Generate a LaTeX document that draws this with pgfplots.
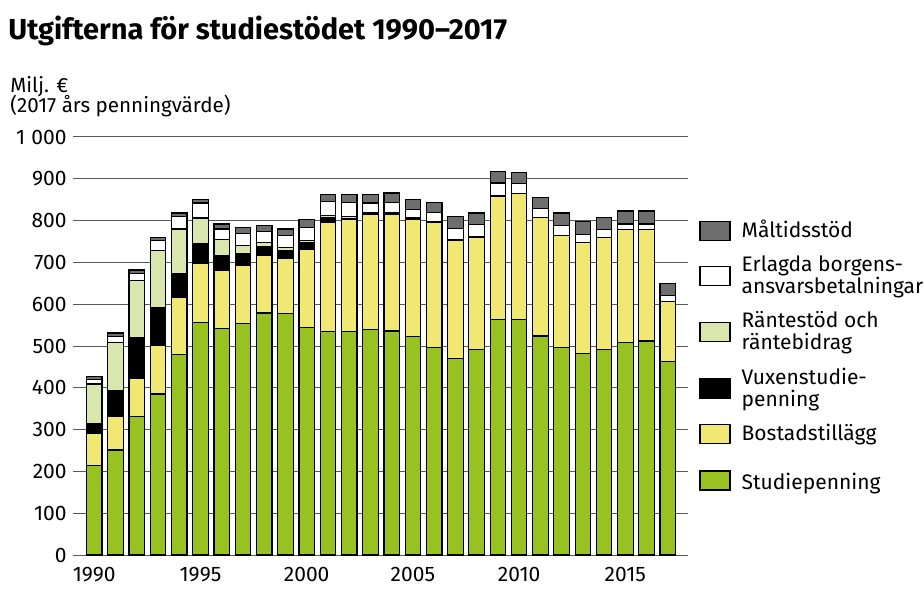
\documentclass[border=0pt]{standalone}
\usepackage{pgfplots}
\usepackage{pgfplotstable}
\pgfplotsset{compat=1.18}
\usepackage{fontspec}
\setmainfont{Fira Sans}

\definecolor{studie}{HTML}{98C122}
\definecolor{bostad}{HTML}{F0E873}
\definecolor{rante}{HTML}{D9E6AD}
\definecolor{malt}{HTML}{6E6E6E}

% Milj. euro, 2017 prices
\pgfplotstableread{
year stud bost vux rant erl malt
1990 215  75 25  94 10  8
1991 251  80 62 116 14  8
1992 331  92 97 137 17  8
1993 385 116 90 137 24  8
1994 480 136 58 106 30  8
1995 557 141 48  60 36  9
1996 541 139 36  38 26 12
1997 553 140 28  20 29 14
1998 579 137 21  11 26 14
1999 577 133 18   7 29 16
2000 544 188 16   5 31 18
2001 535 261 12   5 33 17
2002 535 267  3   5 33 20
2003 539 275  2   2 24 20
2004 536 278  2   2 25 23
2005 523 279  1   3 20 25
2006 497 299  0   2 22 24
2007 471 281  0   2 28 28
2008 491 269  2   0 28 28
2009 563 296  0   1 30 28
2010 563 301  0   0 24 28
2011 524 284  0   0 20 28
2012 496 268  0   0 24 30
2013 483 265  0   0 18 31
2014 491 269  0   0 18 30
2015 508 270  0   0 14 31
2016 512 266  0   0 14 31
2017 463 143  0   0 14 30
}\stodtable

\begin{document}
\begin{tikzpicture}
\path (0,0) rectangle (462pt,297.5pt);
\node[anchor=base west, inner sep=0pt, font=\fontsize{14.5}{17}\selectfont\bfseries]
  at (4pt,277.5pt) {Utgifterna för studiestödet 1990–2017};
\node[anchor=base west, inner sep=0pt, font=\fontsize{10.3}{12}\selectfont]
  at (5pt,251pt) {Milj. €};
\node[anchor=base west, inner sep=0pt, font=\fontsize{10.3}{12}\selectfont]
  at (5pt,241pt) {(2017 års penningvärde)};

\begin{axis}[
    at={(36.5pt,20pt)}, anchor=south west,
    scale only axis,
    width=307.5pt, height=209pt,
    ybar stacked,
    bar width=0.73,
    xmin=1989, xmax=2017.95,
    ymin=0, ymax=1000,
    xtick={1990,1995,...,2015},
    ytick={0,100,...,1000},
    yticklabels={0,100,200,300,400,500,600,700,800,900,1\hspace{0.3em}000},
    /pgf/number format/assume math mode=true,
    /pgf/number format/set thousands separator={},
    major tick length=0pt,
    axis line style={draw=none},
    ymajorgrids,
    grid style={draw=black!65, line width=0.5pt},
    tick label style={font=\fontsize{10.5}{12}\selectfont},
    xticklabel style={inner sep=0pt, yshift=-6pt},
    yticklabel style={inner sep=0pt, xshift=-3pt},
    bars/.style={draw=black, line width=0.6pt,
      legend image code/.code={\draw[##1] (0pt,-4.75pt) rectangle (15pt,4.75pt);}},
    lastbar/.style={draw=black, line width=0.6pt,
      legend image code/.code={\draw[##1] (0pt,-7.25pt) rectangle (15pt,2.25pt);}},
    reverse legend,
    legend cell align=left,
    legend style={at={(1.018,0.811)}, anchor=north west, draw=none,
      inner sep=0pt, row sep=3.5pt,
      font=\fontsize{10.5}{11}\selectfont,
      nodes={inner xsep=0pt},
      cells={align=left},
      /tikz/every odd column/.append style={column sep=5.5pt}},
]
\addplot[lastbar, fill=studie] table[x=year, y=stud] {\stodtable};
\addplot[bars, fill=bostad] table[x=year, y=bost] {\stodtable};
\addplot[bars, fill=black] table[x=year, y=vux] {\stodtable};
\addplot[bars, fill=rante] table[x=year, y=rant] {\stodtable};
\addplot[bars, fill=white] table[x=year, y=erl] {\stodtable};
\addplot[bars, fill=malt] table[x=year, y=malt] {\stodtable};
\legend{\rule[-15.5pt]{0pt}{31pt}Studiepenning, Bostadstillägg, {Vuxenstudie-\\penning},
  {Räntestöd och\\räntebidrag}, {Erlagda borgens-\\ansvarsbetalningar}, Måltidsstöd}
\end{axis}
\end{tikzpicture}
\end{document}
